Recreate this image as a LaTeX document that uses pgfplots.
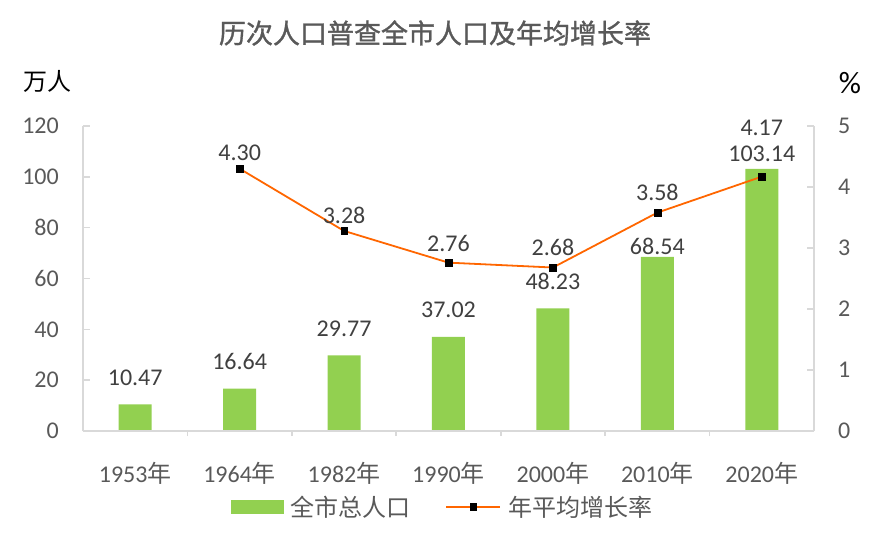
\documentclass[border=0pt]{standalone}
\usepackage{pgfplots}
\usepackage{pgfplotstable}
\pgfplotsset{compat=1.18}
\usepackage{fontspec}
\setmainfont{Carlito}
\newfontfamily\cjk{Noto Sans CJK SC}
\newfontfamily\cjkt[FakeBold=1.2]{Noto Sans CJK SC}
\definecolor{barc}{HTML}{92D050}
\definecolor{linec}{HTML}{FF6600}
\definecolor{axg}{HTML}{D9D9D9}
\definecolor{tickc}{HTML}{595959}
\definecolor{labc}{HTML}{404040}
\newcommand\fs{\fontsize{24bp}{28bp}\selectfont}
\pgfplotsset{mylegline/.style={legend image code/.code={\draw[mark repeat=2,mark phase=2,##1] plot coordinates {(0bp,0bp) (27bp,0bp) (54bp,0bp)};}}}
\pgfplotstableread{
x y off
0 10.47 27
1 16.64 27
2 29.77 27
3 37.02 27
4 48.23 27
5 68.54 10
6 103.14 15
}\bars
\pgfplotstableread{
x y off
1 4.30 16
2 3.28 16
3 2.76 19
4 2.68 20
5 3.58 20
6 4.17 49
}\rates
\begin{document}
\begin{tikzpicture}
\path[use as bounding box] (-83bp,-109bp) rectangle (792bp,431bp);
\pgfplotsset{base/.style={width=731bp,height=305bp,scale only axis,
  xmin=-0.5,xmax=6.5,clip=false,font=\fs,
  /pgf/number format/assume math mode=true,
  axis line style={draw=axg,line width=1.6bp},
  tick style={draw=axg,line width=1.6bp},
  tick label style={text=tickc}}}
% bars
\begin{axis}[base, at={(0bp,0bp)}, anchor=south west,
  ymin=0, ymax=120, ytick={0,20,...,120},
  axis y line*=left, axis x line*=bottom,
  tick align=inside, major tick length=7bp,
  xtick={0,...,6},
  xticklabels={1953{\cjk 年},1964{\cjk 年},1982{\cjk 年},1990{\cjk 年},2000{\cjk 年},2010{\cjk 年},2020{\cjk 年}},
  xtick style={draw=none},
  yticklabel style={anchor=east, inner sep=0pt, xshift=-24bp},
  xticklabel style={anchor=center, inner sep=0pt, yshift=-35bp},
  ybar, bar width=33bp]
\addplot[fill=barc, draw=none,
  visualization depends on={\thisrow{off} \as \loff},
  nodes near coords,
  every node near coord/.append style={anchor=center, yshift=\loff, text=labc,
    /pgf/number format/fixed, /pgf/number format/fixed zerofill, /pgf/number format/precision=2}]
  table[x=x,y=y] {\bars};
\end{axis}
% category separators
\begin{axis}[base, at={(0bp,0bp)}, anchor=south west,
  hide y axis, axis x line*=bottom, ymin=0, ymax=1,
  xtick={0.5,1.5,2.5,3.5,4.5,5.5}, xticklabels={},
  tick align=outside, major tick length=5bp]
\addplot[draw=none] coordinates {(0,0)};
\end{axis}
% line
\begin{axis}[base, at={(0bp,0bp)}, anchor=south west,
  ymin=0, ymax=5, ytick={0,...,5},
  axis y line*=right, hide x axis,
  tick align=inside, major tick length=7bp,
  yticklabel style={anchor=west, inner sep=0pt, xshift=24bp},
  legend style={at={(0.4904,-0.249)}, anchor=center, draw=none, fill=none,
    legend columns=2, font=\fs, text=tickc, nodes={inner sep=0pt},
    /tikz/every odd column/.append style={column sep=7bp},
    /tikz/every even column/.append style={column sep=35bp}}]
\addlegendimage{legend image code/.code={\fill[barc] (0bp,-6.5bp) rectangle (52bp,6.5bp);}}
\addlegendentry{\cjk 全市总人口}
\addplot[linec, line width=1.8bp, mark=square*, mark size=3.4bp,
  mark options={solid, fill=black, draw=black, line width=0.3bp},
  mylegline,
  visualization depends on={\thisrow{off} \as \roff},
  nodes near coords,
  every node near coord/.append style={anchor=center, yshift=\roff, text=labc,
    /pgf/number format/fixed, /pgf/number format/fixed zerofill, /pgf/number format/precision=2}]
  table[x=x,y=y] {\rates};
\addlegendentry{\cjk 年平均增长率}
\end{axis}
\node[font=\fontsize{27bp}{30bp}\selectfont\cjkt, text=tickc] at (352bp,398bp) {历次人口普查全市人口及年均增长率};
\node[font=\fs\cjk, text=black] at (-35bp,350bp) {万人};
\node[font=\fontsize{31bp}{34bp}\selectfont, text=black] at (767bp,348bp) {\%};
\end{tikzpicture}
\end{document}
